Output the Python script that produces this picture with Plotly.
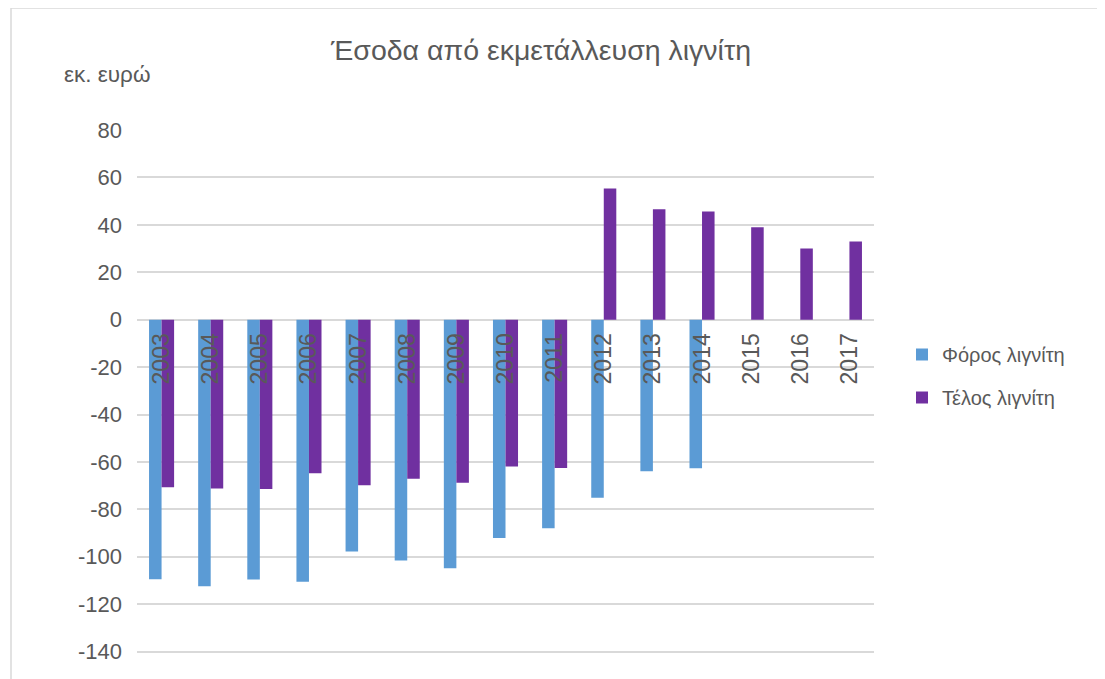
import plotly.graph_objects as go

years = ["2003", "2004", "2005", "2006", "2007", "2008", "2009", "2010",
         "2011", "2012", "2013", "2014", "2015", "2016", "2017"]
foros = [-109.5, -112.4, -109.6, -110.5, -97.8, -101.6, -104.8, -92.1,
         -88.0, -75.1, -63.9, -62.7, None, None, None]
telos = [-70.7, -71.2, -71.4, -64.8, -69.8, -67.1, -68.8, -61.9,
         -62.6, 55.3, 46.6, 45.6, 39.0, 30.0, 33.0]
y_ticks = [80, 60, 40, 20, 0, -20, -40, -60, -80, -100, -120, -140]

YMIN, YMAX = -141, 80
W, H = 1105, 679
OFF = 8  # page body offset
ML, MT = 137 - OFF, 130 - OFF
MR = W - (874 - OFF)
MB = H - (654 - OFF)
PW, PH = W - ML - MR, H - MT - MB

FONT = "Liberation Sans, Arial, sans-serif"
TXT = "#595959"

fig = go.Figure()
fig.add_trace(go.Bar(x=years, y=foros, name="Φόρος λιγνίτη",
                     marker=dict(color="#5B9BD5", line=dict(width=0)),
                     legendgroup="a"))
fig.add_trace(go.Bar(x=years, y=telos, name="Τέλος λιγνίτη",
                     marker=dict(color="#7030A0", line=dict(width=0)),
                     legendgroup="b"))

def px_to_paper_x(px):
    return (px - OFF - ML) / PW

def py_to_paper_y(py):
    return (H - MB - (py - OFF)) / PH

fig.update_layout(
    width=W, height=H,
    margin=dict(l=ML, r=MR, t=MT, b=MB, autoexpand=False),
    paper_bgcolor="white", plot_bgcolor="white",
    barmode="group", bargap=0.49, bargroupgap=0,
    font=dict(family=FONT, color=TXT),
    title=dict(text="Έσοδα από εκμετάλλευση λιγνίτη",
               font=dict(size=28.5, color=TXT, family=FONT),
               x=(541 - OFF) / W, xanchor="center", xref="container",
               y=1 - (50 - OFF) / H, yanchor="middle", yref="container"),
    xaxis=dict(type="category", anchor="free",
               position=(0 - YMIN) / (YMAX - YMIN),
               tickangle=-90, ticks="", showgrid=False, showline=False,
               tickfont=dict(size=23, color=TXT, family=FONT),
               ticklabelstandoff=8, zeroline=False),
    yaxis=dict(range=[YMIN, YMAX], tickvals=y_ticks,
               ticktext=[str(v) for v in y_ticks],
               showgrid=True, gridcolor="#D9D9D9", gridwidth=1.5,
               zeroline=True, zerolinecolor="#D9D9D9", zerolinewidth=1.5,
               showline=False, ticks="", ticklabelstandoff=14,
               tickfont=dict(size=22, color=TXT, family=FONT)),
    legend=dict(x=px_to_paper_x(902), xanchor="left",
                y=py_to_paper_y(335), yanchor="top",
                font=dict(size=20, color=TXT, family=FONT),
                bgcolor="rgba(0,0,0,0)", tracegroupgap=14,
                traceorder="grouped", itemwidth=30),
    annotations=[dict(text="εκ. ευρώ", xref="paper", yref="paper",
                      x=px_to_paper_x(62), xanchor="left",
                      y=py_to_paper_y(75), yanchor="middle",
                      showarrow=False,
                      font=dict(size=22.5, color=TXT, family=FONT))],
    shapes=[dict(type="rect", xref="paper", yref="paper", layer="below",
                 x0=px_to_paper_x(11), x1=px_to_paper_x(1130),
                 y0=py_to_paper_y(700), y1=py_to_paper_y(8),
                 line=dict(color="#D9D9D9", width=1.5),
                 fillcolor="rgba(0,0,0,0)")],
)

fig.write_html("out.html")
